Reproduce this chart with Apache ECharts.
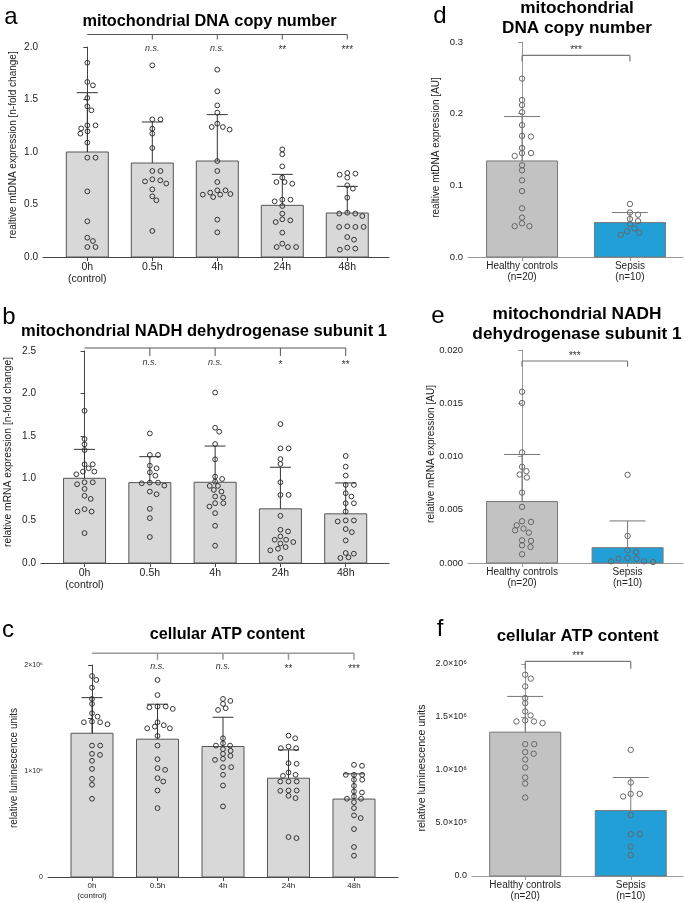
<!DOCTYPE html>
<html>
<head>
<meta charset="utf-8">
<script src="https://cdn.jsdelivr.net/npm/echarts@6/dist/echarts.min.js"></script>
<style>
html, body { margin: 0; padding: 0; background: #fff; }
#chartDiv { width: 685px; height: 903px; }
</style>
</head>
<body>
<div id="chartDiv"></div>
<script>
// ---- categories ----
var timeCats = ['0h\n(control)', '0.5h', '4h', '24h', '48h'];
var groupCats = ['Healthy controls\n(n=20)', 'Sepsis\n(n=10)'];

// ---- a: mtDNA copy number over time ----
var dnaMean = [1.00, 0.895, 0.914, 0.492, 0.419];
var dnaSd = [0.565, 0.391, 0.442, 0.295, 0.254];
var dnaPoints = [
    [1.85, 1.667, 1.635, 1.514, 1.435, 1.397, 1.254, 1.254, 1.225, 1.197, 1.175, 1.089, 0.946, 0.946, 0.625, 0.34, 0.184, 0.152, 0.095, 0.095],
    [1.825, 1.311, 1.311, 1.222, 1.175, 1.038, 0.819, 0.819, 0.74, 0.73, 0.72, 0.70, 0.644, 0.578, 0.54, 0.248],
    [1.784, 1.578, 1.444, 1.375, 1.27, 1.238, 1.238, 1.213, 0.914, 0.819, 0.714, 0.635, 0.635, 0.613, 0.60, 0.594, 0.594, 0.571, 0.356, 0.235],
    [1.025, 0.978, 0.863, 0.756, 0.714, 0.714, 0.698, 0.546, 0.546, 0.53, 0.486, 0.413, 0.359, 0.349, 0.333, 0.232, 0.127, 0.095, 0.095, 0.095],
    [0.8, 0.794, 0.784, 0.756, 0.683, 0.651, 0.565, 0.422, 0.413, 0.413, 0.39, 0.292, 0.286, 0.286, 0.286, 0.19, 0.165, 0.089, 0.08, 0.07]
];
var dnaSig = ['', 'n.s.', 'n.s.', '**', '***'];

// ---- b: ND1 mRNA over time ----
var nd1Mean = [0.999, 0.948, 0.952, 0.639, 0.58];
var nd1Sd = [0.341, 0.306, 0.427, 0.49, 0.364];
var nd1Points = [
    [1.795, 1.462, 1.399, 1.332, 1.164, 1.164, 1.117, 1.078, 1.078, 1.046, 0.952, 0.952, 0.929, 0.874, 0.792, 0.756, 0.635, 0.607, 0.607, 0.353],
    [1.528, 1.274, 1.274, 1.148, 1.117, 1.07, 1.03, 0.948, 0.948, 0.94, 0.913, 0.842, 0.811, 0.639, 0.529, 0.306],
    [2.01, 1.595, 1.548, 1.403, 1.223, 1.019, 0.991, 0.96, 0.909, 0.909, 0.862, 0.842, 0.784, 0.772, 0.705, 0.705, 0.666, 0.588, 0.439, 0.204],
    [1.638, 1.352, 1.352, 1.226, 1.168, 0.952, 0.803, 0.803, 0.556, 0.392, 0.372, 0.313, 0.274, 0.274, 0.247, 0.23, 0.188, 0.168, 0.149, 0.059],
    [1.262, 1.136, 1.031, 0.921, 0.921, 0.823, 0.784, 0.705, 0.705, 0.607, 0.502, 0.502, 0.49, 0.4, 0.364, 0.266, 0.118, 0.11, 0.067, 0.059]
];
var nd1Sig = ['', 'n.s.', 'n.s.', '*', '**'];

// ---- c: ATP over time ----
var atpMean = [1356000, 1300000, 1231000, 932000, 735000];
var atpSd = [336000, 330000, 276000, 267000, 238000];
var atpPoints = [
    [1896000, 1859000, 1786000, 1680000, 1633000, 1545000, 1513000, 1466000, 1460000, 1460000, 1441000, 1240000, 1240000, 1162000, 1152000, 1096000, 1020000, 926000, 870000, 738000],
    [1859000, 1717000, 1608000, 1608000, 1601000, 1586000, 1460000, 1432000, 1419000, 1403000, 1403000, 1331000, 1240000, 1111000, 1027000, 1011000, 932000, 901000, 816000, 650000],
    [1680000, 1661000, 1633000, 1592000, 1576000, 1309000, 1262000, 1240000, 1240000, 1206000, 1190000, 1162000, 1143000, 1115000, 1105000, 1036000, 1036000, 964000, 863000, 666000],
    [1334000, 1309000, 1231000, 1215000, 1215000, 1074000, 1068000, 986000, 964000, 954000, 901000, 901000, 901000, 816000, 816000, 813000, 766000, 744000, 377000, 367000],
    [1058000, 1049000, 964000, 964000, 964000, 917000, 917000, 860000, 807000, 797000, 760000, 738000, 738000, 706000, 650000, 581000, 556000, 452000, 283000, 201000]
];
var atpSig = ['', 'n.s.', 'n.s.', '**', '***'];
var atpTicksC = ['0', '', '1×10⁶', '', '2×10⁶'];

// ---- d: mtDNA patients ----
var dnaPatMean = [0.134, 0.048];
var dnaPatSd = [0.062, 0.014];
var dnaPatPoints = [
    [0.249, 0.219, 0.212, 0.202, 0.184, 0.169, 0.168, 0.152, 0.145, 0.145, 0.141, 0.128, 0.121, 0.107, 0.092, 0.068, 0.055, 0.047, 0.043, 0.043],
    [0.074, 0.062, 0.059, 0.053, 0.05, 0.046, 0.04, 0.036, 0.034, 0.031]
];

// ---- e: ND1 patients ----
var nd1PatMean = [0.00577, 0.00144];
var nd1PatSd = [0.00442, 0.00251];
var nd1PatPoints = [
    [0.01608, 0.01502, 0.01038, 0.00903, 0.00862, 0.00831, 0.00803, 0.00661, 0.00527, 0.00392, 0.00386, 0.00354, 0.00323, 0.00307, 0.00285, 0.00213, 0.00207, 0.00166, 0.0015, 0.00082],
    [0.00828, 0.00254, 0.00119, 0.00103, 0.00047, 0.00041, 0.00041, 0.00016, 0.00016, 0.00009]
];

// ---- f: ATP patients ----
var atpPatMean = [1357000, 617000];
var atpPatSd = [337000, 312000];
var atpPatPoints = [
    [1899000, 1862000, 1789000, 1679000, 1631000, 1553000, 1515000, 1468000, 1458000, 1458000, 1443000, 1244000, 1244000, 1169000, 1153000, 1099000, 1024000, 929000, 872000, 740000],
    [1190000, 882000, 775000, 775000, 750000, 576000, 394000, 394000, 277000, 198000]
];
var atpTicksF = ['0.0', '5.0×10⁵', '1.0×10⁶', '1.5×10⁶', '2.0×10⁶'];
var patSig = ['***'];

var FONT = '"Liberation Sans", Arial, Helvetica, sans-serif';
var GREY = '#d8d8d8', GREY2 = '#c2c2c2', BLUE = '#229fd6';

function fixed(d) { return function (v) { return v.toFixed(d); }; }
function fromList(list, step) { return function (v) { return list[Math.round(v / step)]; }; }

var left = { barW: 42, capW: 21, dx: 8.2, dy: 4.6, r: 2.4, dot: '#333', err: '#333', axis: '#444',
    barStroke: '#555', ticks: [1, 2, 3, 4], sigAt: [0, 1, 2, 3, 4], xFont: 10.5, xLine: 12 };
var right = { barW: 71, capW: 36, dx: 9, dy: 5, r: 2.7, dot: '#666', err: '#777', axis: '#999',
    barStroke: '#777', ticks: [0, 1], sigAt: [0.5], xFont: 10, xLine: 11 };

var panels = [
    { s: left, grid: { left: 43, top: 47, width: 346, height: 210 }, xMin: -0.682, xMax: 4.642,
      yMax: 2, yStep: 0.5, yFmt: fixed(1), yFont: 10, cats: timeCats, mean: dnaMean, sd: dnaSd,
      pts: dnaPoints, sig: dnaSig, fills: [GREY], br: { line: -12.5, tick: 5, text: 1, color: '#555', lw: 1 } },
    { s: left, grid: { left: 41, top: 351, width: 348, height: 212 }, xMin: -0.667, xMax: 4.663,
      yMax: 2.5, yStep: 0.5, yFmt: fixed(1), yFont: 10, cats: timeCats, mean: nd1Mean, sd: nd1Sd,
      pts: nd1Points, sig: nd1Sig, fills: [GREY], br: { line: -3, tick: 8, text: 11.5, color: '#555', lw: 1 } },
    { s: left, grid: { left: 48, top: 665, width: 350, height: 212 }, xMin: -0.672, xMax: 4.672,
      yMax: 2000000, yStep: 500000, yFmt: fromList(atpTicksC, 500000), yFont: 7, cats: timeCats,
      mean: atpMean, sd: atpSd, pts: atpPoints, sig: atpSig, fills: [GREY], xFont: 8, xLine: 10,
      br: { line: -11.7, tick: 6.5, text: 1.7, color: '#999', lw: 1.5 } },
    { s: right, grid: { left: 468, top: 42, width: 215, height: 215 }, xMin: -0.501, xMax: 1.492,
      yMax: 0.3, yStep: 0.1, yFmt: fixed(1), yFont: 9.5, cats: groupCats, mean: dnaPatMean, sd: dnaPatSd,
      pts: dnaPatPoints, sig: patSig, fills: [GREY2, BLUE], br: { line: 13.4, tick: 6, text: 6, color: '#777', lw: 1.2 } },
    { s: right, grid: { left: 468, top: 350, width: 215, height: 213 }, xMin: -0.512, xMax: 1.525,
      yMax: 0.02, yStep: 0.005, yFmt: fixed(3), yFont: 9.5, cats: groupCats, mean: nd1PatMean, sd: nd1PatSd,
      pts: nd1PatPoints, sig: patSig, fills: [GREY2, BLUE], br: { line: 11, tick: 5.7, text: 3.3, color: '#777', lw: 1.2 } },
    { s: right, grid: { left: 472, top: 664, width: 211, height: 212 }, xMin: -0.504, xMax: 1.495,
      yMax: 2000000, yStep: 500000, yFmt: fromList(atpTicksF, 500000), yFont: 9, cats: groupCats,
      mean: atpPatMean, sd: atpPatSd, pts: atpPatPoints, sig: patSig, fills: [GREY2, BLUE],
      br: { line: -2.6, tick: 7.3, text: -10, color: '#777', lw: 1.2 } }
];

// greedy beeswarm in pixel space: rows of dots spread sideways
function swarm(ys, dx, dy) {
    var order = ys.map(function (y, i) { return i; }).sort(function (a, b) { return ys[a] - ys[b]; });
    var placed = [], off = [];
    order.forEach(function (k) {
        var y = ys[k], cands = [0];
        placed.forEach(function (p) {
            var d = Math.abs(p.y - y);
            if (d < dy) {
                var w = dx * Math.sqrt(1 - (d / dy) * (d / dy));
                cands.push(p.x - w, p.x + w);
            }
        });
        cands.sort(function (a, b) { return Math.abs(a) - Math.abs(b) || b - a; });
        var best = 0;
        for (var c = 0; c < cands.length; c++) {
            var o = cands[c];
            var ok = placed.every(function (p) {
                var u = (p.x - o) / dx, v = (p.y - y) / dy;
                return u * u + v * v >= 0.98;
            });
            if (ok) { best = o; break; }
        }
        placed.push({ x: best, y: y });
        off[k] = best;
    });
    return off;
}

var grids = [], xAxes = [], yAxes = [], series = [];

panels.forEach(function (p, k) {
    var s = p.s;
    var idx = p.cats.map(function (c, i) { return i; });
    grids.push(p.grid);
    xAxes.push({
        type: 'value', gridIndex: k, min: p.xMin, max: p.xMax,
        splitLine: { show: false },
        axisLine: { show: true, lineStyle: { color: s.axis, width: 1 } },
        axisTick: { show: true, customValues: idx, length: 4, lineStyle: { color: s.axis } },
        axisLabel: {
            customValues: idx, margin: 4, color: '#222', fontFamily: FONT,
            fontSize: p.xFont || s.xFont, lineHeight: p.xLine || s.xLine,
            formatter: function (v) { return p.cats[Math.round(v)]; }
        }
    });
    yAxes.push({
        type: 'value', gridIndex: k, min: 0, max: p.yMax, interval: p.yStep,
        splitLine: { show: false },
        axisLine: { show: true, lineStyle: { color: s.axis, width: 1 } },
        axisTick: { show: true, length: 4, lineStyle: { color: s.axis } },
        axisLabel: { margin: 5, color: '#222', fontFamily: FONT, fontSize: p.yFont, formatter: p.yFmt }
    });

    var items = p.mean.map(function (m, i) { return [i, m, p.sd[i]]; });

    // bars
    series.push({
        type: 'custom', xAxisIndex: k, yAxisIndex: k, silent: true, data: items,
        renderItem: function (params, api) {
            var i = api.value(0);
            var base = api.coord([i, 0]), top = api.coord([i, api.value(1)]);
            return {
                type: 'rect',
                shape: { x: base[0] - s.barW / 2, y: top[1], width: s.barW, height: base[1] - top[1] },
                style: { fill: p.fills[i] || p.fills[0], stroke: s.barStroke, lineWidth: 1 }
            };
        }
    });

    // individual values
    series.push({
        type: 'custom', xAxisIndex: k, yAxisIndex: k, silent: true, data: items,
        renderItem: function (params, api) {
            var i = api.value(0);
            var pos = p.pts[i].map(function (v) { return api.coord([i, v]); });
            var off = swarm(pos.map(function (c) { return c[1]; }), s.dx, s.dy);
            return {
                type: 'group',
                children: pos.map(function (c, j) {
                    return {
                        type: 'circle', shape: { cx: c[0] + off[j], cy: c[1], r: s.r },
                        style: { fill: 'rgba(0,0,0,0)', stroke: s.dot, lineWidth: 1 }
                    };
                })
            };
        }
    });

    // mean + SD
    series.push({
        type: 'custom', xAxisIndex: k, yAxisIndex: k, silent: true, data: items,
        renderItem: function (params, api) {
            var i = api.value(0), m = api.value(1), sd = api.value(2);
            var a = api.coord([i, m]), b = api.coord([i, m + sd]);
            var st = { stroke: s.err, lineWidth: 1 };
            return {
                type: 'group',
                children: [
                    { type: 'line', shape: { x1: a[0], y1: a[1], x2: b[0], y2: b[1] }, style: st },
                    { type: 'line', shape: { x1: b[0] - s.capW / 2, y1: b[1], x2: b[0] + s.capW / 2, y2: b[1] }, style: st }
                ]
            };
        }
    });

    // significance bracket
    series.push({
        type: 'custom', xAxisIndex: k, yAxisIndex: k, silent: true, data: [[0, p.yMax]],
        renderItem: function (params, api) {
            var top = api.coord([0, p.yMax])[1];
            var yl = top + p.br.line;
            var x0 = api.coord([0, p.yMax])[0], x1 = api.coord([p.cats.length - 1, p.yMax])[0];
            var st = { stroke: p.br.color, lineWidth: p.br.lw };
            var children = [{ type: 'line', shape: { x1: x0, y1: yl, x2: x1, y2: yl }, style: st }];
            s.ticks.forEach(function (t) {
                var xt = api.coord([t, p.yMax])[0];
                children.push({ type: 'line', shape: { x1: xt, y1: yl, x2: xt, y2: yl + p.br.tick }, style: st });
            });
            p.sig.forEach(function (txt, j) {
                if (!txt) return;
                var star = txt.charAt(0) === '*';
                children.push({
                    type: 'text',
                    style: {
                        text: txt, x: api.coord([s.sigAt[j], p.yMax])[0], y: top + p.br.text + (star ? 2.5 : 0),
                        align: 'center', verticalAlign: 'middle', textAlign: 'center', textVerticalAlign: 'middle',
                        fontFamily: FONT, fontSize: star ? 10 : 9, fontStyle: star ? 'normal' : 'italic', fill: '#333'
                    }
                });
            });
            return { type: 'group', children: children };
        }
    });
});

function txt(str, x, y, size, opts) {
    opts = opts || {};
    return {
        type: 'text', x: x, y: y, rotation: opts.rot || 0, silent: true,
        style: {
            text: str, fontFamily: FONT, fontSize: size, fontWeight: opts.bold ? 'bold' : 'normal',
            fill: opts.color || '#000', align: 'center', verticalAlign: 'middle',
            textAlign: 'center', textVerticalAlign: 'middle', lineHeight: opts.lh
        }
    };
}

var graphics = [
    // panel letters
    txt('a', 11, 17.5, 24), txt('b', 9, 317.5, 24), txt('c', 8, 630.5, 24),
    txt('d', 440, 16.5, 24), txt('e', 438, 316.5, 24), txt('f', 440, 629.5, 24),
    // titles
    txt('mitochondrial DNA copy number', 209.5, 22, 16.3, { bold: true }),
    txt('mitochondrial NADH dehydrogenase subunit 1', 204, 331.5, 16.5, { bold: true }),
    txt('cellular ATP content', 227.3, 634.3, 16.2, { bold: true }),
    txt('mitochondrial\nDNA copy number', 577, 18.2, 17.2, { bold: true, lh: 20.3 }),
    txt('mitochondrial NADH\ndehydrogenase subunit 1', 577, 324.7, 17.3, { bold: true, lh: 20 }),
    txt('cellular ATP content', 577.7, 636.3, 16.9, { bold: true }),
    // y axis names
    txt('realtive mtDNA expression [n-fold change]', 13.3, 145, 10, { rot: Math.PI / 2, color: '#222' }),
    txt('relative mRNA expression [n-fold change]', 8.5, 452, 10.3, { rot: Math.PI / 2, color: '#222' }),
    txt('relative luminescence units', 14, 768, 10, { rot: Math.PI / 2, color: '#222' }),
    txt('realtive mtDNA expression [AU]', 436, 147.5, 10, { rot: Math.PI / 2, color: '#222' }),
    txt('relative mRNA expression [AU]', 431, 454, 10, { rot: Math.PI / 2, color: '#222' }),
    txt('relative luminescence units', 422.5, 768, 10.6, { rot: Math.PI / 2, color: '#222' })
];

var myChart = echarts.init(document.getElementById('chartDiv'), null, { renderer: 'canvas' });
myChart.setOption({
    animation: false,
    textStyle: { fontFamily: FONT },
    grid: grids,
    xAxis: xAxes,
    yAxis: yAxes,
    series: series,
    graphic: graphics
});
</script>
</body>
</html>
